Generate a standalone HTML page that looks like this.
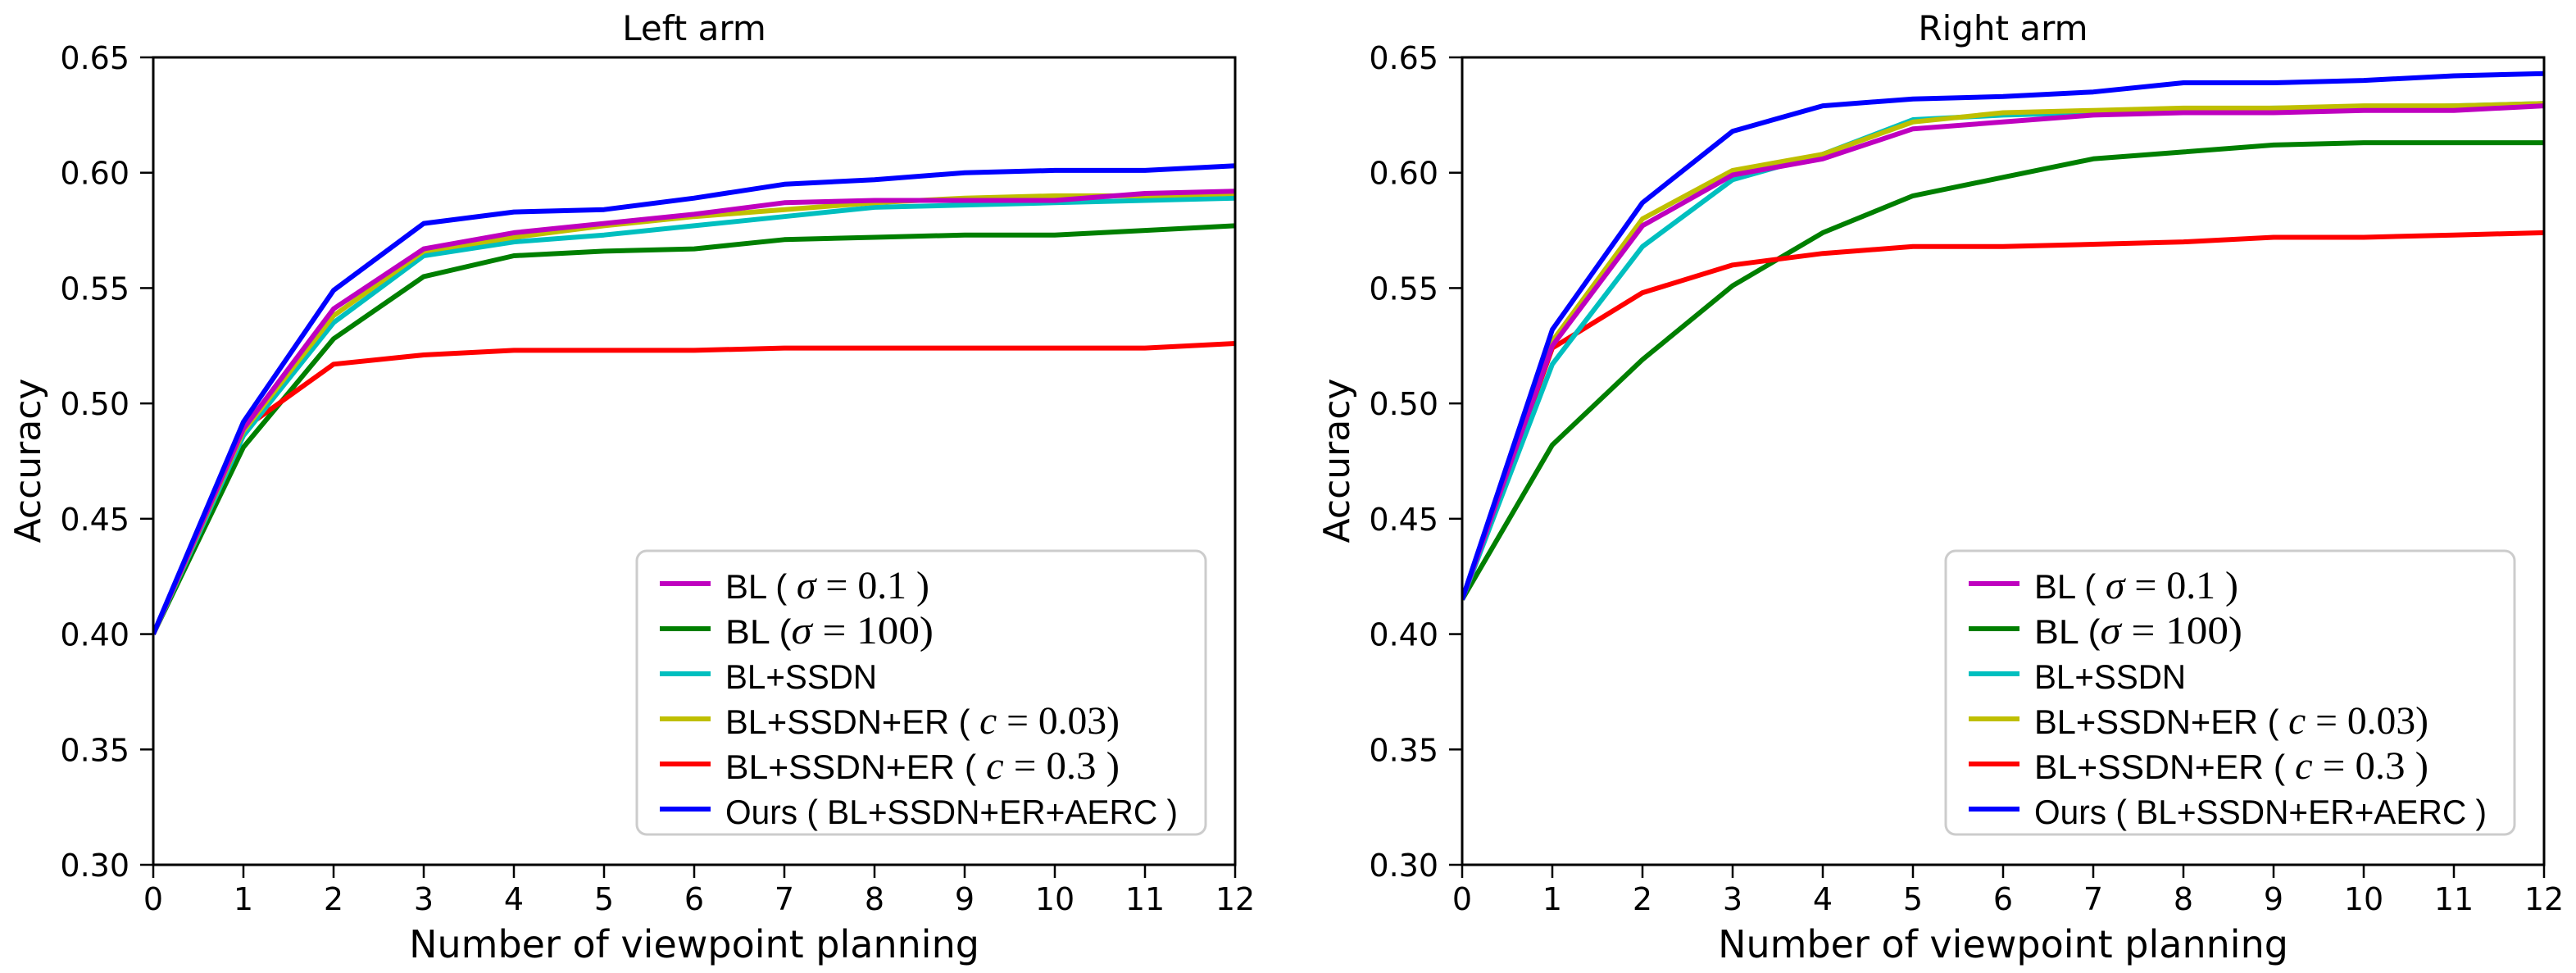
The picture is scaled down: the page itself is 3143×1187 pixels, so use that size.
<!DOCTYPE html>
<html><head><meta charset="utf-8">
<style>
html,body{margin:0;padding:0;background:#fff;}
svg{display:block;}
text{font-family:"DejaVu Sans","Liberation Sans",sans-serif;fill:#000;}
.lg{font-family:"Liberation Sans",sans-serif;}
</style></head>
<body>
<svg id="chart" width="3143" height="1187" viewBox="0 0 3143 1187" xmlns="http://www.w3.org/2000/svg"></svg>
<script>
const xTicks = [0,1,2,3,4,5,6,7,8,9,10,11,12];
const yTicks = [0.30,0.35,0.40,0.45,0.50,0.55,0.60,0.65];
const yTickLabels = ["0.30","0.35","0.40","0.45","0.50","0.55","0.60","0.65"];
const seriesNames = ["BL (σ=0.1)","BL (σ=100)","BL+SSDN","BL+SSDN+ER (c=0.03)","BL+SSDN+ER (c=0.3)","Ours (BL+SSDN+ER+AERC)"];
const seriesColors = ["#bf00bf","#007f00","#00bfbf","#bfbf00","#ff0000","#0000ff"];
const leftMagenta = [0.40,0.489,0.541,0.567,0.574,0.578,0.582,0.587,0.588,0.588,0.588,0.591,0.592];
const leftGreen   = [0.40,0.481,0.528,0.555,0.564,0.566,0.567,0.571,0.572,0.573,0.573,0.575,0.577];
const leftCyan    = [0.40,0.486,0.535,0.564,0.570,0.573,0.577,0.581,0.585,0.586,0.587,0.588,0.589];
const leftYellow  = [0.40,0.488,0.538,0.566,0.572,0.577,0.581,0.584,0.587,0.589,0.590,0.590,0.591];
const leftRed     = [0.40,0.489,0.517,0.521,0.523,0.523,0.523,0.524,0.524,0.524,0.524,0.524,0.526];
const leftBlue    = [0.40,0.492,0.549,0.578,0.583,0.584,0.589,0.595,0.597,0.600,0.601,0.601,0.603];
const rightMagenta = [0.415,0.525,0.577,0.599,0.606,0.619,0.622,0.625,0.626,0.626,0.627,0.627,0.629];
const rightGreen   = [0.415,0.482,0.519,0.551,0.574,0.590,0.598,0.606,0.609,0.612,0.613,0.613,0.613];
const rightCyan    = [0.415,0.517,0.568,0.597,0.608,0.623,0.625,0.626,0.627,0.628,0.628,0.629,0.630];
const rightYellow  = [0.415,0.527,0.580,0.601,0.608,0.622,0.626,0.627,0.628,0.628,0.629,0.629,0.630];
const rightRed     = [0.415,0.524,0.548,0.560,0.565,0.568,0.568,0.569,0.570,0.572,0.572,0.573,0.574];
const rightBlue    = [0.415,0.532,0.587,0.618,0.629,0.632,0.633,0.635,0.639,0.639,0.640,0.642,0.643];

const NS="http://www.w3.org/2000/svg";
const svg=document.getElementById('chart');
function mk(tag,attrs,parent){const e=document.createElementNS(NS,tag);for(const k in attrs)e.setAttribute(k,attrs[k]);(parent||svg).appendChild(e);return e;}

const legendParts=[
 [["BL ( ",""],["σ","m it"],[" = 0.1 )","m"]],
 [["BL (",""],["σ","m it"],[" = 100)","m"]],
 [["BL+SSDN",""]],
 [["BL+SSDN+ER ( ",""],["c","m it"],[" = 0.03)","m"]],
 [["BL+SSDN+ER ( ",""],["c","m it"],[" = 0.3   )","m"]],
 [["Ours ( BL+SSDN+ER+AERC )",""]]
];
const legendWidths=[249,254,185,481,481,552];

function panel(off,title,data,name){
  const g=mk('g',{});
  
  
  const x0=187+off,x1=1507+off,y0=70,y1=1055;
  const xs=v=>x0+(v-0)/(12-0)*(x1-x0);
  const ys=v=>y1-(v-0.30)/(0.65-0.30)*(y1-y0);
  const order=[1,4,2,3,0,5];
  const defs=mk('clipPath',{id:'clip'+name},g);
  mk('rect',{x:x0,y:y0,width:x1-x0,height:y1-y0},defs);
  order.forEach(i=>{
    const d=data[i].map((v,j)=>(j?'L':'M')+xs(xTicks[j]).toFixed(1)+' '+ys(v).toFixed(1)).join(' ');
    const p=mk('path',{d:d,fill:'none',stroke:seriesColors[i],'stroke-width':6,'stroke-linejoin':'round','clip-path':'url(#clip'+name+')'},g);
    
    
  });
  const f=mk('rect',{x:x0,y:y0,width:x1-x0,height:y1-y0,fill:'none',stroke:'#000','stroke-width':3},g);
  
  
  xTicks.forEach(t=>{
    mk('line',{x1:xs(t),x2:xs(t),y1:y1,y2:y1+16,stroke:'#000','stroke-width':2.5},g);
    const tx=mk('text',{x:xs(t),y:1110,'font-size':38,'text-anchor':'middle'},g);
    tx.textContent=t;
    
    
  });
  yTicks.forEach((t,i)=>{
    mk('line',{x1:x0-16,x2:x0,y1:ys(t),y2:ys(t),stroke:'#000','stroke-width':2.5},g);
    const tx=mk('text',{x:x0-29,y:ys(t)+14,'font-size':38,'text-anchor':'end'},g);
    tx.textContent=yTickLabels[i];
    
    
  });
  const tt=mk('text',{x:(x0+x1)/2,y:49,'font-size':42,'text-anchor':'middle'},g);
  tt.textContent=title;
  
  
  const xl=mk('text',{x:(x0+x1)/2,y:1168,'font-size':46,'text-anchor':'middle'},g);
  xl.textContent='Number of viewpoint planning';
  
  
  const yl=mk('text',{x:0,y:0,'font-size':44,'text-anchor':'middle',transform:`translate(${49+off},562) rotate(-90)`},g);
  yl.textContent='Accuracy';
  
  
  const lg=mk('g',{},g);
  
  
  mk('rect',{x:777+off,y:672,width:694,height:346,rx:12,fill:'#fff','fill-opacity':0.8,stroke:'#cccccc','stroke-width':3},lg);
  legendParts.forEach((parts,i)=>{
    const yy=730+i*55;
    const ln=mk('line',{x1:805+off,x2:867+off,y1:yy-18,y2:yy-18,stroke:seriesColors[i],'stroke-width':6},lg);
    
    
    const tx=mk('text',{x:885+off,y:yy,'font-size':42,'class':'lg',textLength:legendWidths[i],lengthAdjust:'spacingAndGlyphs'},lg);
    
    
    parts.forEach(p=>{
      const ts=mk('tspan',{},tx);
      if(p[1].indexOf('m')>=0){ts.setAttribute('font-family','Liberation Serif, serif');ts.setAttribute('font-size','48');}
      if(p[1].indexOf('it')>=0)ts.setAttribute('font-style','italic');
      ts.textContent=p[0];
    });
  });
}
panel(0,'Left arm',[leftMagenta,leftGreen,leftCyan,leftYellow,leftRed,leftBlue],'left-arm-panel');
panel(1597,'Right arm',[rightMagenta,rightGreen,rightCyan,rightYellow,rightRed,rightBlue],'right-arm-panel');
</script>
</body></html>
